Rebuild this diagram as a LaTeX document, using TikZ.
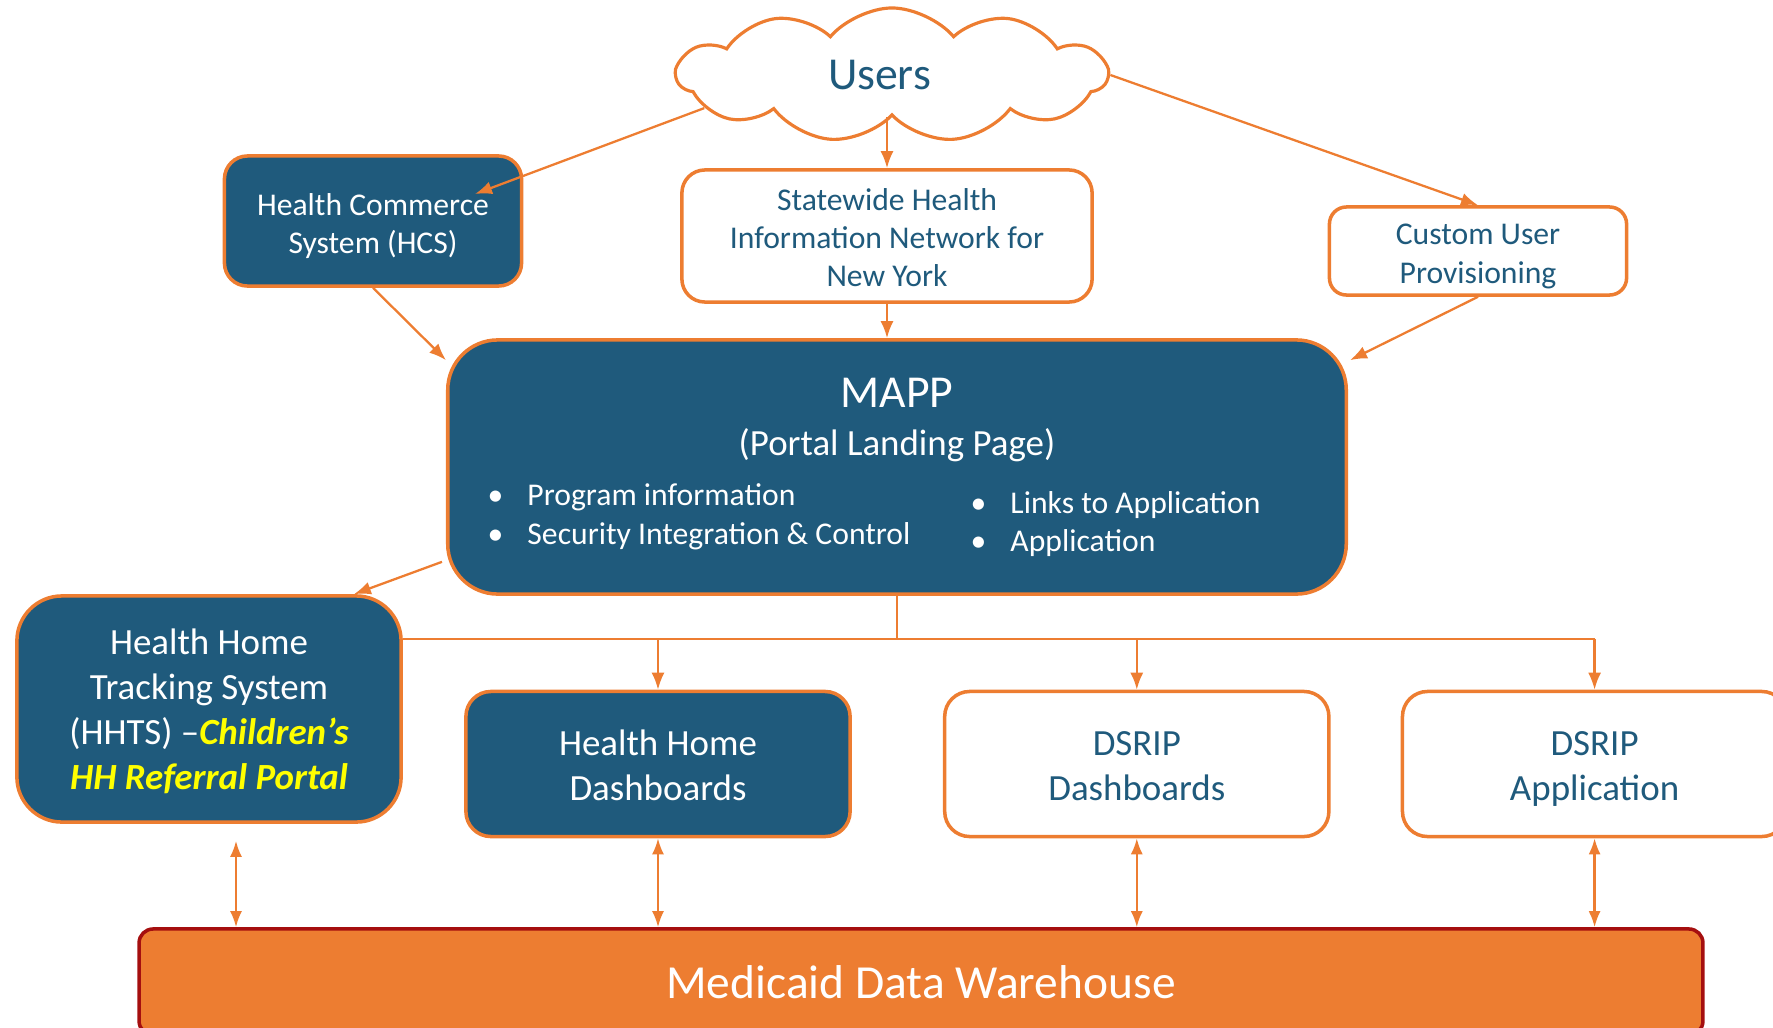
\documentclass[tikz,border=0pt]{standalone}
\usepackage{fontspec}
\setmainfont{Carlito}
\usetikzlibrary{shapes.geometric, shapes.symbols, arrows.meta}
\usetikzlibrary{positioning, calc}
\definecolor{mappblue}{HTML}{1F5A7C}
\definecolor{linkorange}{HTML}{ED7D31}
\definecolor{mdwred}{HTML}{A50F0F}
\definecolor{hhyellow}{HTML}{FFFF00}
\newcommand{\boxstrut}[1]{\rule{0pt}{#1}}
\newcommand{\boxdepth}{\rule[-2.5pt]{0pt}{2.5pt}}
\tikzstyle{darkbox} = [rectangle, rounded corners=0.23cm, draw=linkorange, line width=1pt,
fill=mappblue, text=white, align=center, font=\fontsize{9}{10.9}\selectfont]
\tikzstyle{lightbox} = [rectangle, rounded corners=0.23cm, draw=linkorange, line width=1pt,
fill=white, text=mappblue, align=center, font=\fontsize{9}{10.9}\selectfont]
\tikzstyle{rowbox} = [rounded corners=0.25cm, minimum width=3.84cm, minimum height=1.45cm,
font=\fontsize{10.5}{12.8}\selectfont]
\tikzstyle{usercloud} = [cloud, cloud puffs=11, cloud puff arc=100, cloud ignores aspect,
draw=linkorange, line width=0.9pt, fill=white, text=mappblue, font=\fontsize{13}{15}\selectfont]
\tikzstyle{bullets} = [anchor=west, inner sep=0pt, align=left, text=white,
font=\fontsize{9}{11}\selectfont]
\tikzstyle{arrow} = [line width=0.65pt, draw=linkorange, -{Latex[length=1.7mm, width=1.3mm]}]
\tikzstyle{dblarrow} = [line width=0.65pt, draw=linkorange,
{Latex[length=1.6mm, width=1.2mm]}-{Latex[length=1.6mm, width=1.2mm]}]
\tikzstyle{bus} = [line width=0.65pt, draw=linkorange]

\begin{document}
\begin{tikzpicture} [x=0.01cm, y=-0.01cm, node distance=1cm]
    \useasboundingbox (0,0) rectangle (1773,1027);
    \node (users) [usercloud, minimum width=4.3cm, minimum height=1.34cm] at (892,75) {Users\rule{0.25cm}{0pt}};
    \node (hcs) [darkbox, minimum width=2.97cm, minimum height=1.30cm] at (373,221) {\boxstrut{1em}Health Commerce\\System (HCS)};
    \node (shin) [lightbox, minimum width=4.10cm, minimum height=1.32cm] at (887,236) {\boxstrut{0.8em}Statewide Health\\Information Network for\\New York};
    \node (custom) [lightbox, rounded corners=0.17cm, inner ysep=0pt, minimum width=2.97cm, minimum height=0.88cm] at (1478,251) {\boxstrut{1em}Custom User\\Provisioning};
    \node (mapp) [darkbox, rounded corners=0.5cm, minimum width=8.98cm, minimum height=2.54cm] at (897,467) {};
    \node (mapptitle) [text=white, font=\fontsize{13}{15}\selectfont] at (897,393) {MAPP};
    \node (mappsub) [text=white, font=\fontsize{10.5}{12}\selectfont] at (897,445) {(Portal Landing Page)};
    \node (mappleft) [bullets] at (487,517) {\textbullet\hspace{0.24cm}Program information\\\textbullet\hspace{0.24cm}Security Integration \& Control};
    \node (mappright) [bullets] at (970,524) {\textbullet\hspace{0.24cm}Links to Application\\\textbullet\hspace{0.24cm}Application};
    \node (hhts) [darkbox, rounded corners=0.45cm, minimum width=3.84cm, minimum height=2.26cm, font=\fontsize{10.5}{12.8}\selectfont] at (209,709) {\boxstrut{0.8em}Health Home\\Tracking System\\(HHTS) --\textcolor{hhyellow}{\bfseries\itshape Children’s}\\\textcolor{hhyellow}{\bfseries\itshape HH Referral Portal}};
    \node (hhd) [darkbox, rowbox] at (658,764) {\boxstrut{1em}Health Home\\Dashboards\boxdepth};
    \node (dsd) [lightbox, rowbox, right=0.91cm of hhd] {\boxstrut{1em}DSRIP\\Dashboards\boxdepth};
    \node (dsa) [lightbox, rowbox, right=0.7cm of dsd] {\boxstrut{1em}DSRIP\\Application\boxdepth};
    \node (mdw) [rectangle, rounded corners=0.14cm, fill=linkorange, draw=mdwred, line width=1pt, text=white, minimum width=15.63cm, minimum height=1.06cm, font=\fontsize{13.5}{16}\selectfont] at (921,982) {Medicaid Data Warehouse};

    \coordinate (hcstip) at (475,194);
    \coordinate (busjoin) at ($(mapp.south)+(0,43)$);
    \coordinate (hhtsdown) at ($(hhts.south)+(27,17)$);

    \draw[arrow] (users.190) -- (hcstip);
    \draw[arrow] (shin.north |- users.south) -- (shin.north);
    \draw[arrow] (users.east) -- (custom.north);
    \draw[arrow] (hcs.south) -- ($(mapp.north west)+(0,22)$);
    \draw[arrow] (shin.south) -- (shin.south |- mapp.north);
    \draw[arrow] (custom.south) -- ($(mapp.north east)+(2,22)$);
    \draw[arrow] ($(mapp.south west)+(-4,-34)$) -- ($(hhts.north east)+(-49,0)$);
    \draw[bus] (mapp.south) -- (busjoin);
    \draw[bus] (hhts.east |- busjoin) -- (dsa.north |- busjoin);
    \draw[arrow] (hhd.north |- busjoin) -- (hhd.north);
    \draw[arrow] (dsd.north |- busjoin) -- (dsd.north);
    \draw[arrow] (dsa.north |- busjoin) -- (dsa.north);
    \draw[dblarrow] (hhtsdown) -- (hhtsdown |- mdw.north);
    \draw[dblarrow] (hhd.south) -- (hhd.south |- mdw.north);
    \draw[dblarrow] (dsd.south) -- (dsd.south |- mdw.north);
    \draw[dblarrow] (dsa.south) -- (dsa.south |- mdw.north);

\end{tikzpicture}
\end{document}
